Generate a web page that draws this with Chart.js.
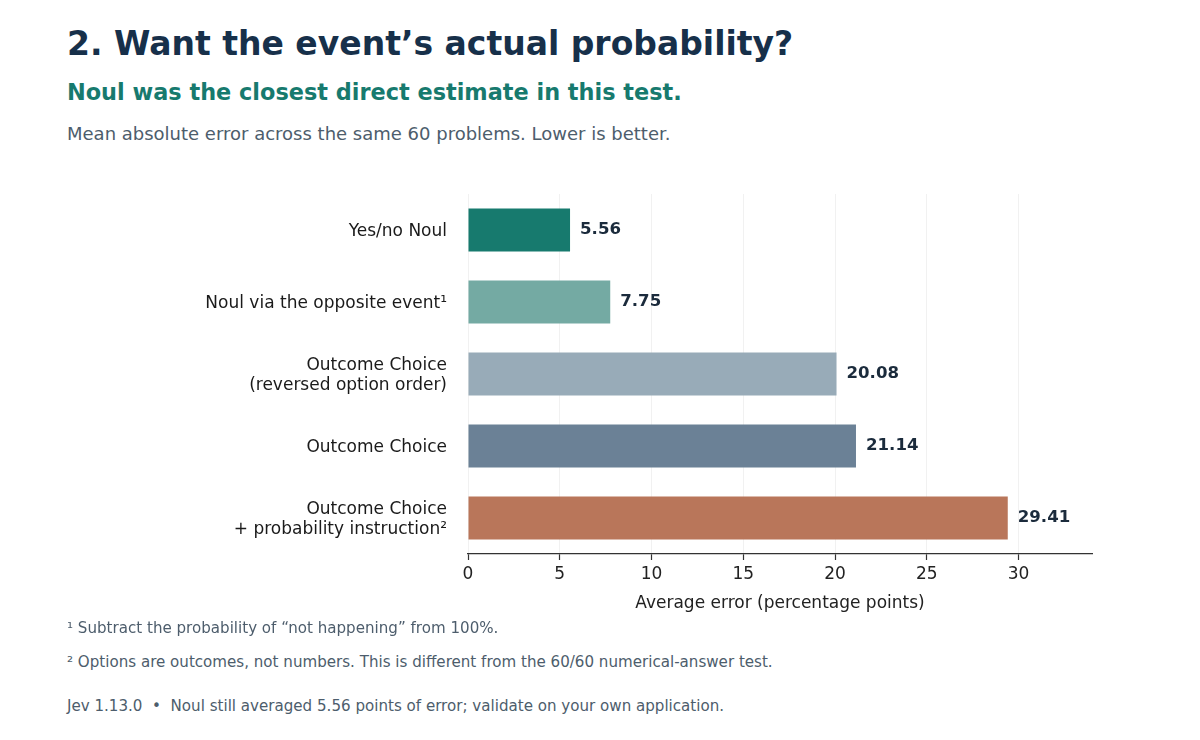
<!DOCTYPE html>
<html>
<head>
<meta charset="utf-8">
<script src="https://cdn.jsdelivr.net/npm/chart.js@4.4.1/dist/chart.umd.min.js"></script>
<style>
  html, body { margin:0; padding:0; background:#ffffff; }
  body { width:1200px; height:740px; position:relative; overflow:hidden; font-family:"DejaVu Sans", sans-serif; }
  .t { position:absolute; left:67px; line-height:1; white-space:nowrap; }
  #title { top:27px; font-size:33px; font-weight:bold; color:#17304a; }
  #subtitle { top:81px; font-size:22.4px; font-weight:bold; color:#177a6e; }
  #caption { top:125px; font-size:18px; color:#4d5d6c; }
  .fn { font-size:15.1px; color:#4d5d6c; }
  #fn1 { top:621px; }
  #fn2 { top:655px; }
  #src { top:699px; }
  #wrap { position:absolute; left:0; top:180px; width:1200px; height:450px; }
</style>
</head>
<body>
<div class="t" id="title">2. Want the event’s actual probability?</div>
<div class="t" id="subtitle">Noul was the closest direct estimate in this test.</div>
<div class="t" id="caption">Mean absolute error across the same 60 problems. Lower is better.</div>
<div id="wrap"><canvas id="c"></canvas></div>
<div class="t fn" id="fn1">¹ Subtract the probability of “not happening” from 100%.</div>
<div class="t fn" id="fn2">² Options are outcomes, not numbers. This is different from the 60/60 numerical-answer test.</div>
<div class="t fn" id="src">Jev 1.13.0 &nbsp;•&nbsp; Noul still averaged 5.56 points of error; validate on your own application.</div>
<script>
const categories = [
  "Yes/no Noul",
  "Noul via the opposite event¹",
  ["Outcome Choice", "(reversed option order)"],
  "Outcome Choice",
  ["Outcome Choice", "+ probability instruction²"]
];
const errorValues = [5.56, 7.75, 20.08, 21.14, 29.41];
const valueLabels = ["5.56", "7.75", "20.08", "21.14", "29.41"];
const barColors = ["#177a6e", "#74aaa3", "#98abb8", "#6b8196", "#b9765a"];
const xTicks = [0, 5, 10, 15, 20, 25, 30];
const xMax = 34;
const xTitle = "Average error (percentage points)";

const FONT = "DejaVu Sans";

const valueLabelPlugin = {
  id: "valueLabels",
  afterDatasetsDraw(chart) {
    const ctx = chart.ctx;
    const meta = chart.getDatasetMeta(0);
    ctx.save();
    ctx.font = "bold 16.6px '" + FONT + "'";
    ctx.fillStyle = "#1b2b3c";
    ctx.textAlign = "left";
    ctx.textBaseline = "middle";
    meta.data.forEach((el, i) => {
      ctx.fillText(valueLabels[i], el.x + 10, el.y - 0.5);
    });
    ctx.restore();
  }
};

new Chart(document.getElementById("c"), {
  type: "bar",
  data: {
    labels: categories,
    datasets: [{
      data: errorValues,
      backgroundColor: barColors,
      borderWidth: 0,
      categoryPercentage: 1.0,
      barPercentage: 0.6
    }]
  },
  options: {
    indexAxis: "y",
    responsive: true,
    maintainAspectRatio: false,
    animation: false,
    layout: { padding: { top: 14, right: 108, bottom: 0, left: 0 } },
    plugins: {
      legend: { display: false },
      tooltip: { enabled: false }
    },
    scales: {
      x: {
        type: "linear",
        min: 0,
        max: xMax,
        afterBuildTicks(scale) { scale.ticks = xTicks.map(v => ({ value: v })); },
        afterFit(scale) { scale.height = 76; scale.paddingLeft = 0; scale.paddingRight = 0; },
        grid: {
          display: true,
          color: "#f1f1f1",
          lineWidth: 1,
          drawTicks: true,
          tickLength: 6,
          tickColor: "#333333",
          tickWidth: 1.2
        },
        border: { display: true, color: "#333333", width: 1.3 },
        ticks: {
          font: { family: FONT, size: 17 },
          color: "#222222",
          padding: 4,
          maxRotation: 0
        },
        title: {
          display: true,
          text: xTitle,
          font: { family: FONT, size: 17 },
          color: "#222222",
          padding: { top: 0, bottom: 16 }
        }
      },
      y: {
        afterFit(scale) { scale.width = 468; scale.paddingTop = 0; scale.paddingBottom = 0; },
        grid: { display: false, drawTicks: false },
        border: { display: false },
        ticks: {
          font: { family: FONT, size: 17, lineHeight: 1.2 },
          color: "#1a1a1a",
          padding: 21,
          labelOffset: 1.5
        }
      }
    }
  },
  plugins: [valueLabelPlugin]
});
</script>
</body>
</html>
